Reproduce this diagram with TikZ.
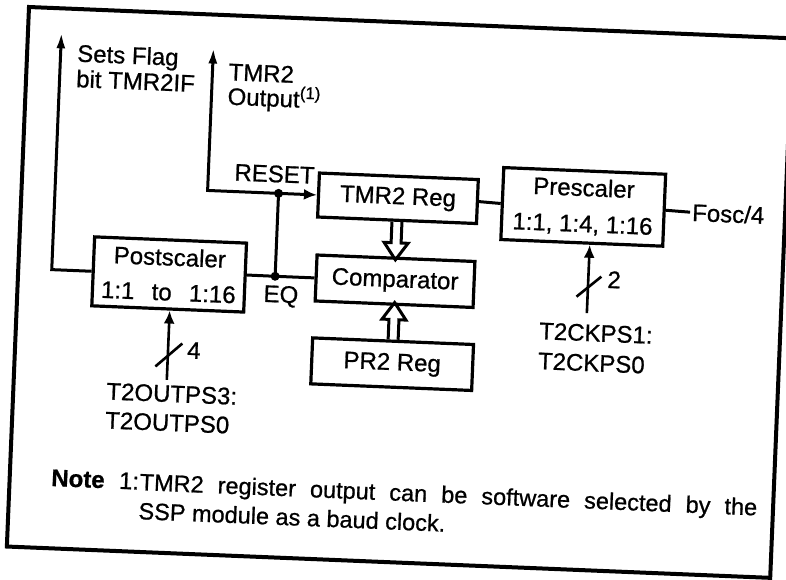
\documentclass[tikz,border=0pt]{standalone}
\usepackage{fontspec}
\setmainfont{Liberation Sans}[FakeBold=0.8]
\usetikzlibrary{arrows.meta,calc}
\tikzset{
  lbl/.style={inner sep=0pt, font=\fontsize{24}{25}\selectfont},
  box/.style={draw, line width=3.2pt, inner sep=0pt, align=center, font=\fontsize{24}{25}\selectfont},
  conn/.style={line width=3pt},
  thinline/.style={line width=2.6pt},
  uptip/.style={-{Latex[length=16pt,width=9pt]}},
  intip/.style={-{Latex[length=13pt,width=11pt]}},
  hollow/.style={line width=3pt, line join=miter},
}
\begin{document}
\begin{tikzpicture}[x=1pt,y=-1pt]
\useasboundingbox (0,0) rectangle (786,579);
\begin{scope}[shift={(29,7)}, rotate=-2.35, transform shape]
\draw[line width=4pt] (0,0) rectangle (764,540);

% boxes
\node[box, minimum width=152pt, minimum height=69pt, font=\fontsize{24}{35}\selectfont] (post) at (151,261.5) {Postscaler\\1:1\hspace{0.72em}to\hspace{0.72em}1:16};
\node[box, minimum width=159pt, minimum height=44pt] (tmr) at (376.5,176) {TMR2 Reg};
\node[box, minimum width=158pt, minimum height=46pt] (cmp) at (377,259) {Comparator};
\node[box, minimum width=161pt, minimum height=46pt] (pr2) at (377.5,342) {PR2 Reg};
\node[box, minimum width=162pt, minimum height=72pt, font=\fontsize{24}{36}\selectfont] (pre) at (562,177) {Prescaler\\1:1, 1:4, 1:16};

% labels
\node[lbl, anchor=north west, align=left, font=\fontsize{24}{25.5}\selectfont] (flag) at (50,35) {Sets Flag\\bit TMR2IF};
\node[lbl, anchor=north west, align=left, font=\fontsize{24}{24.5}\selectfont] (outl) at (202,48) {TMR2\\Output\textsuperscript{(1)}};
\node[lbl, anchor=north west] (reset) at (212,148) {RESET};
\node[lbl, anchor=north west] (eq) at (246,268) {EQ};
\node[lbl, anchor=north west] (four) at (172,328) {4};
\node[lbl, anchor=north west] (two) at (589,240) {2};
\node[lbl, anchor=north west] (fosc) at (671,169) {Fosc/4};
\node[lbl, anchor=north west, align=left, font=\fontsize{24}{29}\selectfont] (outps) at (93,372) {T2OUTPS3:\\T2OUTPS0};
\node[lbl, anchor=north west, align=left, font=\fontsize{24}{30}\selectfont] (ckps) at (523,294) {T2CKPS1:\\T2CKPS0};
\node[lbl, anchor=north west] (note) at (41.5,461) {\textbf{Note}\hspace{0.6em}1:};
\node[lbl, anchor=north west, align=left, font=\fontsize{23.5}{29}\selectfont] (notetext) at (130,461) {\makebox[618pt][s]{TMR2 register output can be software selected by the}\\SSP module as a baud clock.};

% coordinates
\coordinate (ftop) at (33.5,24);
\coordinate (fc) at (33.5,261.5);
\coordinate (otop) at (186,33);
\coordinate (oc) at (186,176);
\coordinate (rj) at (257,176);
\coordinate (eqj) at (257,259);
\coordinate (pin) at (153,367);
\coordinate (cin) at (570,283);
\coordinate (s1) at (154,342);
\coordinate (s2) at (571,257);

% connectors
\draw[conn, uptip] (post.west) -- (fc) -- (ftop);
\draw[conn] (cmp.west) -- (eqj) -- ($(post.north east)!0.464!(post.south east)$);
\draw[conn, intip] (eqj) -- (rj) -- (tmr.west);
\draw[conn, uptip] (rj) -- (oc) -- (otop);
\fill (eqj) circle (4.5);
\fill (rj) circle (4.5);
\draw[conn] (tmr.east) -- (pre.west);
\draw[conn, shorten >=2pt] (pre.east) -- (fosc.west);
\draw[thinline, intip] (pin) -- ($(post.south west)!0.513!(post.south east)$);
\draw[thinline, intip] (cin) -- ($(pre.south west)!0.549!(pre.south east)$);
\draw[thinline] (s1) ++(-13,12) -- ++(26,-24);
\draw[thinline] (s2) ++(-12,10) -- ++(24,-21);

% hollow bus arrows
\draw[hollow] (tmr.south) ++(-5,0) -- ++(0,21) -- ++(-7,0) -- ++(12,17) -- ++(12,-17) -- ++(-7,0) -- ++(0,-21);
\draw[hollow] (pr2.north) ++(-5,0) -- ++(0,-20) -- ++(-7,0) -- ++(12,-17) -- ++(12,17) -- ++(-7,0) -- ++(0,20);
\end{scope}
\end{tikzpicture}
\end{document}
